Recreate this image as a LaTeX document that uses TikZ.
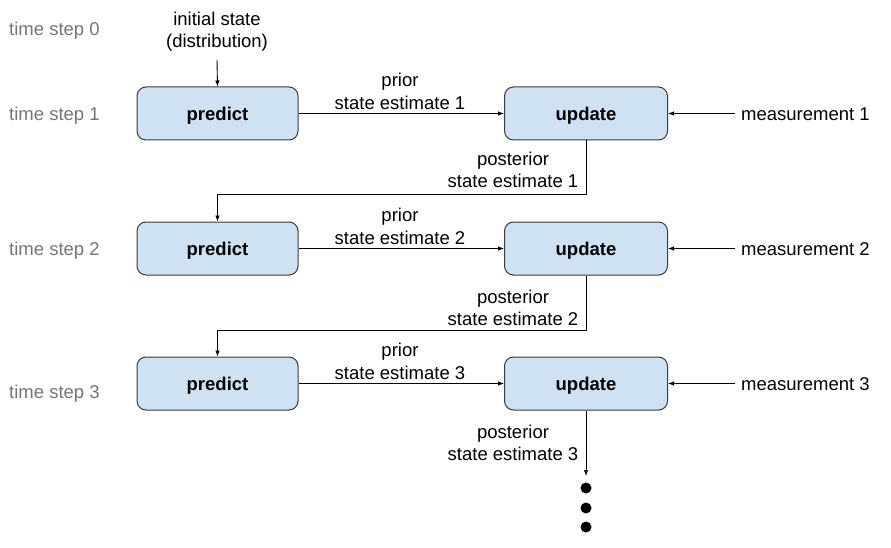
\documentclass[tikz,border=0pt]{standalone}
\usepackage{fontspec}
\setmainfont{Liberation Sans}
\usetikzlibrary{arrows.meta}
\definecolor{boxfill}{HTML}{CFE2F3}
\definecolor{boxdraw}{HTML}{3A3A3A}
\definecolor{tsgray}{HTML}{757575}
\begin{document}
\begin{tikzpicture}[x=1pt,y=-1pt,
  font=\fontsize{18.5}{22.5}\selectfont,
  stepbox/.style={draw=boxdraw,fill=boxfill,rounded corners=9pt,line width=1pt,
    minimum height=53pt,inner sep=0pt,text height=17.2pt,text depth=3.7pt,
    font=\fontsize{18.5}{22.5}\selectfont\bfseries},
  pbox/.style={stepbox,minimum width=161pt},
  ubox/.style={stepbox,minimum width=163pt},
  lbl/.style={align=center,inner sep=0pt},
  tslbl/.style={text=tsgray,anchor=west,inner sep=0pt},
  meas/.style={anchor=west,inner sep=0pt},
  conn/.style={line width=0.9pt,-{Latex[length=6pt,width=4.5pt]}},
  dot/.style={circle,fill=black,inner sep=0pt,minimum size=11pt}
]
\useasboundingbox (0,0) rectangle (891,548);

% time step labels
\node[tslbl] (ts0) at (9,31) {time step 0};
\node[tslbl] (ts1) at (9,115.5) {time step 1};
\node[tslbl] (ts2) at (9,250.5) {time step 2};
\node[tslbl] (ts3) at (9,393.5) {time step 3};

% initial state
\node[lbl] (init) at (217,31.5) {initial state\\(distribution)};
\coordinate (initend) at (217,60);

% boxes
\node[pbox] (p1) at (217.5,113.5) {predict};
\node[ubox] (u1) at (586,113.5) {update};
\node[pbox] (p2) at (217.5,248.5) {predict};
\node[ubox] (u2) at (586,248.5) {update};
\node[pbox] (p3) at (217.5,383.5) {predict};
\node[ubox] (u3) at (586,383.5) {update};

% measurements
\node[meas] (m1) at (741,114.5) {measurement 1};
\node[meas] (m2) at (741,249.5) {measurement 2};
\node[meas] (m3) at (741,384.5) {measurement 3};

% prior labels
\node[lbl] (pr1) at (400,91.5) {prior\\state estimate 1};
\node[lbl] (pr2) at (400,226.5) {prior\\state estimate 2};
\node[lbl] (pr3) at (400,361.5) {prior\\state estimate 3};

% posterior labels
\node[lbl] (po1) at (513,170) {posterior\\state estimate 1};
\node[lbl] (po2) at (513,308) {posterior\\state estimate 2};
\node[lbl] (po3) at (513,443) {posterior\\state estimate 3};

% dots
\node[dot] (d1) at (586,488) {};
\node[dot] (d2) at (586,508) {};
\node[dot] (d3) at (586,527) {};
\coordinate (dend) at (586,476);

% connectors
\coordinate (m1s) at (735,113.5);
\coordinate (m2s) at (735,248.5);
\coordinate (m3s) at (735,383.5);
\draw[conn] (initend) -- (p1.north);
\draw[conn] (p1.east) -- (u1.west);
\draw[conn] (p2.east) -- (u2.west);
\draw[conn] (p3.east) -- (u3.west);
\draw[conn] (m1s) -- (u1.east);
\draw[conn] (m2s) -- (u2.east);
\draw[conn] (m3s) -- (u3.east);
\draw[conn] (u1.south) |- (217.5,194.5) -- (p2.north);
\draw[conn] (u2.south) |- (217.5,330) -- (p3.north);
\draw[conn] (u3.south) -- (dend);
\end{tikzpicture}
\end{document}
